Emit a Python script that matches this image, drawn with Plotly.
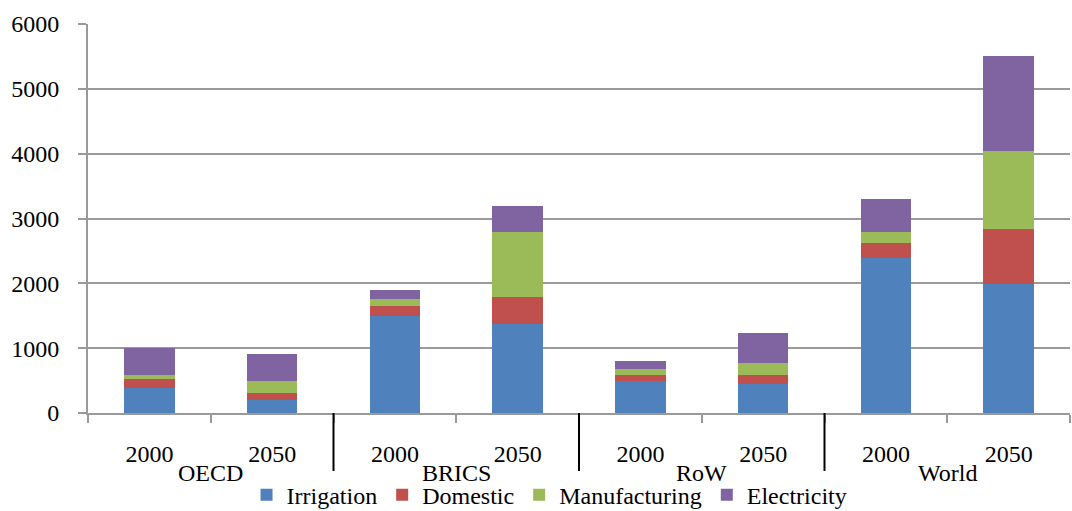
import plotly.graph_objects as go

# Water demand by region and year (km3)
regions = ["OECD", "BRICS", "RoW", "World"]
years = ["2000", "2050"]

irrigation = [390, 200, 1500, 1380, 490, 445, 2390, 1990]
domestic = [135, 110, 150, 405, 90, 140, 230, 845]
manufacturing = [60, 185, 110, 1005, 95, 185, 170, 1205]
electricity = [415, 415, 140, 410, 125, 460, 510, 1460]

series = [
    ("Irrigation", irrigation, "#4F81BD"),
    ("Domestic", domestic, "#C0504D"),
    ("Manufacturing", manufacturing, "#9BBB59"),
    ("Electricity", electricity, "#8064A2"),
]

categories = [f"{r} {y}" for r in regions for y in years]
year_labels = [y for r in regions for y in years]

FONT = "Liberation Serif, Times New Roman, serif"
SIZE = 24
GRID = "#9a9a9a"

fig = go.Figure()
for name, vals, color in series:
    fig.add_trace(go.Bar(x=categories, y=vals, name=name,
                         marker=dict(color=color, line=dict(width=0))))

# Region labels centred under each pair of bars
for i, r in enumerate(regions):
    fig.add_annotation(x=2 * i + 0.5, y=-0.155, xref="x", yref="paper",
                       text=r, showarrow=False, yanchor="middle",
                       borderpad=0,
                       font=dict(family=FONT, size=SIZE, color="black"))

# Dividers between regions
for i in range(1, len(regions)):
    fig.add_shape(type="line", xref="x", yref="paper",
                  x0=2 * i - 0.5, x1=2 * i - 0.5, y0=0, y1=-0.149,
                  line=dict(color="black", width=2))

fig.update_layout(
    width=1072, height=511,
    margin=dict(l=88, r=2, t=24, b=98, autoexpand=False),
    paper_bgcolor="white", plot_bgcolor="white",
    barmode="stack", bargap=0.59,
    font=dict(family=FONT, size=SIZE, color="black"),
    showlegend=True,
    legend=dict(orientation="h", x=0.47, xanchor="center",
                yref="container", y=0.031, yanchor="middle",
                font=dict(family=FONT, size=SIZE),
                itemwidth=30, traceorder="normal"),
    xaxis=dict(type="category", tickvals=categories, ticktext=year_labels,
               tickson="boundaries", ticks="outside", ticklen=8,
               tickcolor=GRID, tickwidth=2, showline=True, linecolor=GRID,
               linewidth=2, showgrid=False, ticklabelstandoff=18,
               automargin=False, tickfont=dict(family=FONT, size=SIZE)),
    yaxis=dict(range=[0, 6000], dtick=1000, showgrid=True, gridcolor=GRID,
               gridwidth=2, showline=True, linecolor=GRID, linewidth=2,
               ticks="outside", ticklen=8, tickcolor=GRID, tickwidth=2,
               ticklabelstandoff=14, zeroline=False, automargin=False,
               tickfont=dict(family=FONT, size=SIZE)),
)

fig.write_html("out.html")
